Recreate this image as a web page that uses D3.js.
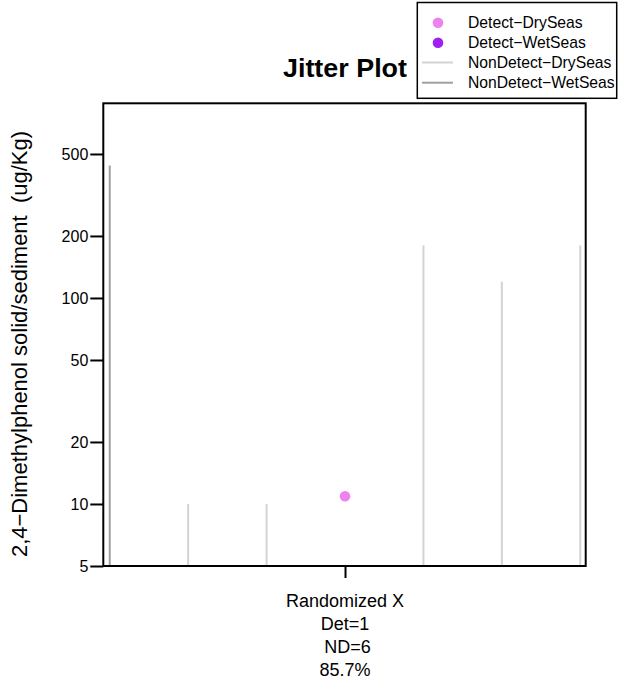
<!DOCTYPE html>
<html>
<head>
<meta charset="utf-8">
<script src="https://cdn.jsdelivr.net/npm/d3@7"></script>
<style>
  html, body { margin: 0; padding: 0; background: #fff; }
  svg { display: block; font-family: "Liberation Sans", Arial, Helvetica, sans-serif; }
</style>
</head>
<body>
<svg id="chart" width="624" height="690"></svg>
<script>
// ---- data ----
const xPositions = [1, 2, 3, 4, 5, 6, 7];
const values = [440, 10, 10, 10.9, 180, 120, 180];
const groups = ["NonDetect−WetSeas", "NonDetect−DrySeas", "NonDetect−DrySeas", "Detect−DrySeas",
                "NonDetect−DrySeas", "NonDetect−DrySeas", "NonDetect−DrySeas"];
const yTicks = [5, 10, 20, 50, 100, 200, 500];
const legendLabels = ["Detect−DrySeas", "Detect−WetSeas", "NonDetect−DrySeas", "NonDetect−WetSeas"];
const legendKinds = ["point", "point", "line", "line"];
const xLabelLines = ["Randomized X", "Det=1", " ND=6", "85.7%"];
const titleText = "Jitter Plot";
const yLabelText = "2,4−Dimethylphenol solid/sediment  (ug/Kg)";

const colors = {
  "Detect−DrySeas": "#EE82EE",
  "Detect−WetSeas": "#A020F0",
  "NonDetect−DrySeas": "#D3D3D3",
  "NonDetect−WetSeas": "#A0A0A0"
};

const svg = d3.select("#chart");
const plot = { left: 103.3, right: 585.7, top: 103.3, bottom: 566 };

const x = d3.scaleLinear().domain([0.918, 7.069]).range([plot.left, plot.right]);
const y = d3.scaleLog().domain([5, 881]).range([plot.bottom, plot.top]);

const data = xPositions.map((xv, i) => ({ x: xv, v: values[i], g: groups[i] }));

// non-detect lines
svg.append("g").selectAll("line")
  .data(data.filter(d => d.g.startsWith("NonDetect")))
  .join("line")
  .attr("x1", d => x(d.x)).attr("x2", d => x(d.x))
  .attr("y1", y(5)).attr("y2", d => y(d.v))
  .attr("stroke", d => colors[d.g])
  .attr("stroke-width", 2);

// detect points
svg.append("g").selectAll("circle")
  .data(data.filter(d => d.g.startsWith("Detect")))
  .join("circle")
  .attr("cx", d => x(d.x)).attr("cy", d => y(d.v))
  .attr("r", 5.3)
  .attr("fill", d => colors[d.g]);

// box
svg.append("rect")
  .attr("x", plot.left).attr("y", plot.top)
  .attr("width", plot.right - plot.left).attr("height", plot.bottom - plot.top)
  .attr("fill", "none").attr("stroke", "#000").attr("stroke-width", 2);

// y axis
const yAxis = d3.axisLeft(y).tickValues(yTicks).tickFormat(d3.format("d")).tickSize(13).tickPadding(2);
const ya = svg.append("g").attr("transform", `translate(${plot.left},0)`).call(yAxis);
ya.select(".domain").remove();
ya.selectAll(".tick line").attr("stroke", "#000").attr("stroke-width", 2);
ya.selectAll(".tick text").attr("font-size", 16).attr("fill", "#000")
  .attr("font-family", "Liberation Sans, Arial, sans-serif");

// x axis (single tick at center)
const xAxis = d3.axisBottom(x).tickValues([4]).tickFormat("").tickSize(12);
const xa = svg.append("g").attr("transform", `translate(0,${plot.bottom})`).call(xAxis);
xa.select(".domain").remove();
xa.selectAll(".tick line").attr("stroke", "#000").attr("stroke-width", 2);

// x label lines
const xlBase = [607, 630, 653, 676];
svg.append("g").selectAll("text")
  .data(xLabelLines)
  .join("text")
  .attr("x", x(4))
  .attr("y", (d, i) => xlBase[i])
  .attr("text-anchor", "middle")
  .attr("font-size", 18)
  .style("white-space", "pre")
  .text(d => d);

// title
svg.append("text")
  .attr("x", 345).attr("y", 77)
  .attr("text-anchor", "middle")
  .attr("font-size", 26).attr("font-weight", "bold")
  .attr("textLength", 124).attr("lengthAdjust", "spacingAndGlyphs")
  .text(titleText);

// y label
svg.append("text")
  .attr("transform", "translate(27.3,344) rotate(-90)")
  .attr("text-anchor", "middle")
  .attr("font-size", 22)
  .style("white-space", "pre")
  .text(yLabelText);

// legend
const lg = svg.append("g");
lg.append("rect")
  .attr("x", 417.3).attr("y", 2.5).attr("width", 199.4).attr("height", 95.8)
  .attr("fill", "#fff").attr("stroke", "#000").attr("stroke-width", 1.5);
const rowY = [22.7, 42.7, 62.5, 82.7];
legendLabels.forEach((lab, i) => {
  if (legendKinds[i] === "point") {
    lg.append("circle").attr("cx", 438).attr("cy", rowY[i]).attr("r", 5.3).attr("fill", colors[lab]);
  } else {
    lg.append("line").attr("x1", 422).attr("x2", 453).attr("y1", rowY[i]).attr("y2", rowY[i])
      .attr("stroke", colors[lab]).attr("stroke-width", 2);
  }
  lg.append("text").attr("x", 468).attr("y", rowY[i] + 5.6)
    .attr("font-size", 15.7).text(lab);
});
</script>
</body>
</html>
